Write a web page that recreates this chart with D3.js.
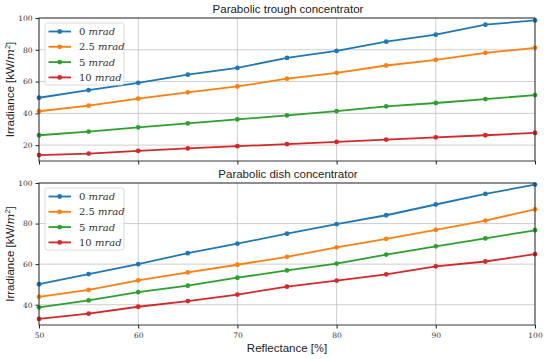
<!DOCTYPE html>
<html>
<head>
<meta charset="utf-8">
<script src="https://cdn.jsdelivr.net/npm/d3@7"></script>
<style>
body { margin: 0; background: white; }
.tick text { font-family: "DejaVu Serif", serif; font-size: 7.5px; fill: #333; }
.tick line { stroke: #222; }
.grid line { stroke: #c8c8c8; stroke-width: 0.9; }
</style>
</head>
<body>
<script>
// reflectance steps, shared by both panels
var reflectance = [50, 55, 60, 65, 70, 75, 80, 85, 90, 95, 100];
var errors = ["0", "2.5", "5", "10"];
var colors = ["#1f77b4", "#ff7f0e", "#2ca02c", "#d62728"];

var trough_0   = [49.8, 54.6, 59.2, 64.3, 68.6, 74.9, 79.3, 85.1, 89.5, 95.8, 98.5];
var trough_2_5 = [41.3, 44.8, 49.2, 53.2, 56.9, 61.8, 65.5, 70.1, 73.7, 78.1, 81.2];
var trough_5   = [26.2, 28.5, 31.2, 33.7, 36.2, 38.7, 41.4, 44.4, 46.5, 49.0, 51.5];
var trough_10  = [13.7, 14.7, 16.4, 17.9, 19.3, 20.6, 22.0, 23.5, 24.9, 26.2, 27.7];

var dish_0   = [50.1, 55.1, 60.0, 65.4, 70.1, 75.0, 79.7, 84.1, 89.4, 94.6, 99.2];
var dish_2_5 = [43.9, 47.3, 52.0, 55.9, 59.7, 63.6, 68.3, 72.5, 76.9, 81.5, 87.0];
var dish_5   = [38.7, 42.1, 46.2, 49.4, 53.3, 56.9, 60.3, 64.7, 68.8, 72.7, 76.7];
var dish_10  = [33.0, 35.6, 39.0, 41.8, 45.0, 48.9, 51.9, 55.0, 58.9, 61.3, 64.9];

var xticks = [50, 60, 70, 80, 90, 100];
var trough_yticks = [20, 40, 60, 80, 100];
var dish_yticks = [40, 60, 80, 100];

var width = 550, height = 359;
var left = 39, right = 535;
var sans = "Liberation Sans, Arial, sans-serif";

var svg = d3.select("body").append("svg")
    .attr("width", width)
    .attr("height", height)
    .style("background", "white");

var x_scale = d3.scaleLinear().domain([50, 100]).range([left, right]);

function panel(top, bottom, ydomain, yticks, series, title, showX) {
    var y_scale = d3.scaleLinear().domain(ydomain).range([bottom, top]);
    var g = svg.append("g");

    // grid
    g.append("g").attr("class", "grid")
        .selectAll("line").data(xticks).enter().append("line")
        .attr("x1", function(d){ return x_scale(d); })
        .attr("x2", function(d){ return x_scale(d); })
        .attr("y1", top).attr("y2", bottom);
    g.append("g").attr("class", "grid")
        .selectAll("line").data(yticks).enter().append("line")
        .attr("y1", function(d){ return y_scale(d); })
        .attr("y2", function(d){ return y_scale(d); })
        .attr("x1", left).attr("x2", right);

    var xAxis = d3.axisBottom(x_scale).tickValues(xticks).tickSize(3.5).tickPadding(4);
    if (!showX) xAxis.tickFormat("");
    g.append("g").attr("transform", "translate(0," + bottom + ")").call(xAxis)
        .call(function(a){ a.select(".domain").remove(); });
    g.append("g").attr("transform", "translate(" + left + ",0)")
        .call(d3.axisLeft(y_scale).tickValues(yticks).tickSize(3.5).tickPadding(3))
        .call(function(a){ a.select(".domain").remove(); });

    var line = d3.line()
        .x(function(d, i){ return x_scale(reflectance[i]); })
        .y(function(d){ return y_scale(d); });

    series.forEach(function(vals, k){
        g.append("path").datum(vals)
            .attr("d", line)
            .attr("fill", "none")
            .attr("stroke", colors[k])
            .attr("stroke-width", 1.8);
        g.selectAll(".pt" + k).data(vals).enter().append("circle")
            .attr("cx", function(d, i){ return x_scale(reflectance[i]); })
            .attr("cy", function(d){ return y_scale(d); })
            .attr("r", 2.4)
            .attr("fill", colors[k]);
    });

    // frame
    g.append("rect")
        .attr("x", left).attr("y", top)
        .attr("width", right - left).attr("height", bottom - top)
        .attr("fill", "none").attr("stroke", "#222").attr("stroke-width", 0.9);

    g.append("text")
        .attr("x", (left + right) / 2 + 1).attr("y", top - 5)
        .attr("text-anchor", "middle")
        .attr("font-family", sans)
        .attr("font-size", 11.5)
        .attr("fill", "#222")
        .text(title);

    // legend
    var lg = g.append("g").attr("transform", "translate(45," + (top + 5) + ")");
    lg.append("rect")
        .attr("width", 79).attr("height", 62).attr("rx", 2.5)
        .attr("fill", "white").attr("fill-opacity", 0.85)
        .attr("stroke", "#d0d0d0").attr("stroke-width", 0.8);
    errors.forEach(function(e, k){
        var yy = 8.5 + k * 15.3;
        lg.append("line").attr("x1", 3.5).attr("x2", 26).attr("y1", yy).attr("y2", yy)
            .attr("stroke", colors[k]).attr("stroke-width", 1.8);
        lg.append("circle").attr("cx", 14.7).attr("cy", yy).attr("r", 2.4).attr("fill", colors[k]);
        var t = lg.append("text").attr("x", 34).attr("y", yy + 3.5)
            .attr("font-family", "DejaVu Serif, serif").attr("font-size", 10).attr("fill", "#333");
        t.append("tspan").text(e + " ");
        t.append("tspan").attr("font-style", "italic").text("mrad");
    });

    var yl = svg.append("text")
        .attr("transform", "translate(14," + ((top + bottom) / 2) + ") rotate(-90)")
        .attr("text-anchor", "middle")
        .attr("font-family", sans)
        .attr("font-size", 11.5)
        .attr("fill", "#222");
    yl.append("tspan").text("Irradiance [kW/");
    yl.append("tspan").attr("font-family", "DejaVu Serif, serif").attr("font-style", "italic").text("m");
    yl.append("tspan").attr("font-size", 7.5).attr("dy", -4.5).text("2");
    yl.append("tspan").attr("dy", 4.5).text("]");
}

panel(18, 161, [10, 100], trough_yticks, [trough_0, trough_2_5, trough_5, trough_10],
      "Parabolic trough concentrator", false);
panel(183, 325, [30, 100], dish_yticks, [dish_0, dish_2_5, dish_5, dish_10],
      "Parabolic dish concentrator", true);

var xl = svg.append("text")
    .attr("x", (left + right) / 2).attr("y", 352)
    .attr("text-anchor", "middle")
    .attr("font-family", sans)
    .attr("font-size", 11.5)
    .attr("fill", "#222");
xl.append("tspan").text("Reflectance [");
xl.append("tspan").attr("font-family", "DejaVu Serif, serif").attr("font-size", 10.5).text("%");
xl.append("tspan").text("]");
</script>
</body>
</html>
